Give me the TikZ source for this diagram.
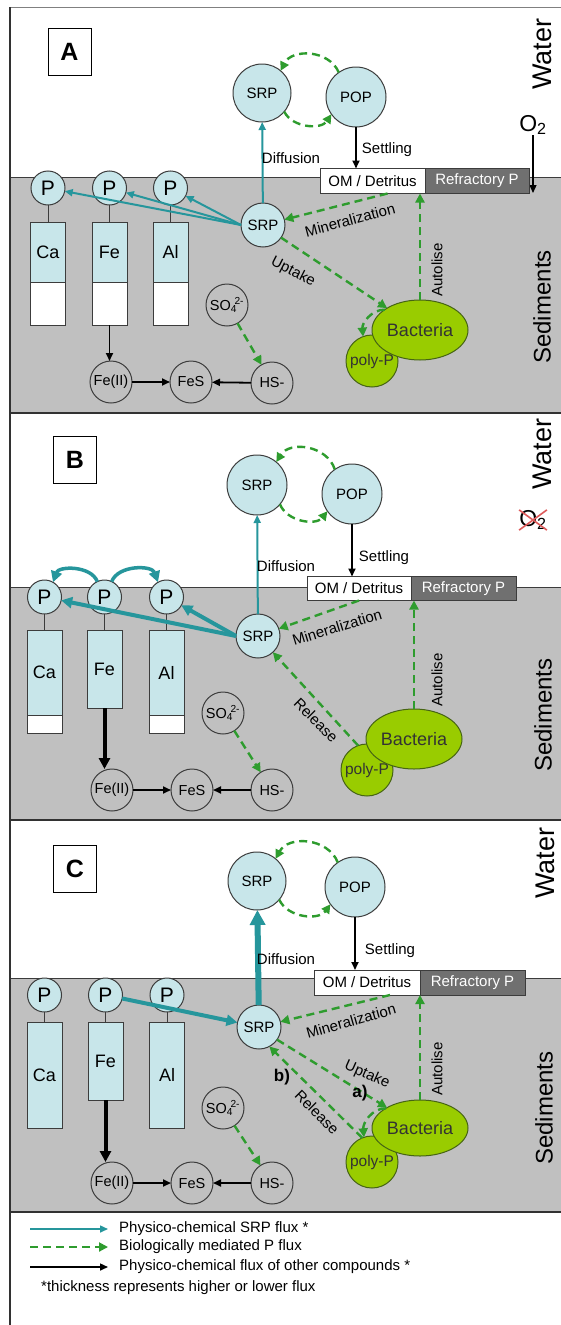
\documentclass[tikz,border=0pt]{standalone}
\usepackage{fontspec}
\setmainfont{Liberation Sans}
\usetikzlibrary{arrows.meta,positioning,shapes.geometric}

\definecolor{cyanfill}{RGB}{200,230,234}
\definecolor{tealline}{RGB}{38,150,156}
\definecolor{biogreen}{RGB}{46,156,46}
\definecolor{bactfill}{RGB}{153,204,0}
\definecolor{bactline}{RGB}{70,100,20}
\definecolor{sedgray}{RGB}{192,192,192}
\definecolor{refgray}{RGB}{112,112,112}
\definecolor{linegray}{RGB}{60,60,60}
\definecolor{framegray}{RGB}{50,50,50}
\definecolor{crossred}{RGB}{222,90,90}

\newcommand{\fsz}[1]{\fontsize{#1}{#1}\selectfont}

\tikzset{
  lbl/.style={font=\fsz{15}, inner sep=1pt},
  poolc/.style={circle, draw=linegray, line width=1pt, fill=cyanfill, inner sep=0pt, outer sep=0pt, font=\fsz{15}},
  pcirc/.style={circle, draw=linegray, line width=1pt, fill=cyanfill, minimum size=34pt, inner sep=0pt, outer sep=0pt, font=\fsz{21}},
  gcirc/.style={circle, draw=linegray, line width=1pt, fill=sedgray, minimum size=42pt, inner sep=0pt, outer sep=0pt, font=\fsz{14.5}},
  minbox/.style={rectangle, draw=linegray, line width=1pt, fill=cyanfill, minimum width=35pt, inner sep=0pt, outer sep=0pt, font=\fsz{18}},
  whitebox/.style={rectangle, draw=linegray, line width=1pt, fill=white, minimum width=35pt, inner sep=0pt, outer sep=0pt},
  ombox/.style={rectangle, draw=linegray, line width=1pt, fill=white, minimum height=25pt, inner sep=0pt, outer sep=0pt, font=\fsz{15}},
  refbox/.style={ombox, fill=refgray, text=white},
  panlab/.style={rectangle, draw=black, line width=1pt, fill=white, minimum width=43pt, minimum height=47pt, font=\fsz{25}\bfseries},
  zone/.style={rotate=90, inner sep=0pt, font=\fsz{27}},
  phys/.style={draw=tealline, line width=2pt, -{Triangle[length=8pt,width=7pt]}},
  physthick/.style={phys, line width=4pt, -{Triangle[length=11pt,width=11pt]}},
  bio/.style={draw=biogreen, line width=2.4pt, dash pattern=on 8pt off 5pt, -{Triangle[length=9pt,width=9pt]}},
  other/.style={draw=black, line width=1.8pt, -{Triangle[length=8pt,width=7pt]}},
  otherthick/.style={other, line width=4pt, -{Triangle[length=11pt,width=11pt]}},
  stem/.style={draw=linegray, line width=1pt},
  bact/.style={ellipse, draw=bactline, line width=1pt, fill=bactfill, minimum width=96pt, minimum height=60pt, inner sep=0pt, outer sep=0pt, text=black!80, font=\fsz{18}},
  polyp/.style={circle, draw=bactline, line width=1pt, fill=bactfill, minimum size=52pt, inner sep=0pt, outer sep=0pt, text=black!80, font=\fsz{15.5}},
  flag/.style={font=\fsz{17}\bfseries, inner sep=0pt}
}

\begin{document}
\begin{tikzpicture}[x=1pt, y=1pt]
\useasboundingbox (0,0) rectangle (560,-1325);

            %----- PANELS -----
            \fill[white] (0,0) rectangle (560,-1325);
            \fill[sedgray] (10,-177) rectangle (562,-413);
            \fill[sedgray] (10,-587) rectangle (562,-820);
            \fill[sedgray] (10,-978) rectangle (562,-1212);
            \draw[linegray, line width=1pt] (10,-177) -- (562,-177) (10,-587) -- (562,-587) (10,-978) -- (562,-978);
            \draw[gray, line width=1pt] (10,-7) -- (562,-7);
            \draw[framegray, line width=2.5pt] (10,-413) -- (562,-413) (10,-820) -- (562,-820) (10,-1212) -- (562,-1212);
            \draw[framegray, line width=2.5pt] (10,-7) -- (10,-1325);

            %----- PANEL A -----
            \node[panlab] (labA) at (69.5,-51.5) {A};
            \node[zone] (watA) at (542,-54) {Water};
            \node[zone, font=\fsz{24}] (sedA) at (542,-307) {Sediments};
            \node[font=\fsz{23}, inner sep=0pt] (o2A) at (533,-125) {O\textsubscript{2}};
            \coordinate (o2endA) at (533,-193);
            \draw[other, line width=1.2pt] (o2A) -- (o2endA);

            % water column
            \node[poolc, minimum size=58pt] (srpwA) at (262,-93) {SRP};
            \node[poolc, minimum size=60pt] (popA) at (356,-97) {POP};
            \draw[bio] (popA.125) to[bend right=65, looseness=1.1] (srpwA.50);
            \draw[bio] (srpwA.-40) to[bend right=60] (popA.-145);
            \node[ombox, minimum width=105pt] (omA) at (372.5,-181) {OM / Detritus};
            \node[refbox, minimum width=104pt, right=0pt of omA] (refA) {Refractory P};
            \draw[other] (popA) -- (popA |- omA.north);
            \node[lbl] (setA) at (387,-150) {Settling};

            % bound P
            \node[pcirc] (pcaA) at (48,-188) {P};
            \node[pcirc] (pfeA) at (109.5,-188) {P};
            \node[pcirc] (palA) at (170.5,-188) {P};
            \node[minbox, minimum height=60pt] (caA) at (48,-252) {Ca};
            \node[minbox, minimum height=60pt] (feA) at (109.5,-252) {Fe};
            \node[minbox, minimum height=60pt] (alA) at (170.5,-252) {Al};
            \node[whitebox, minimum height=43pt, below=0pt of caA] (caAw) {};
            \node[whitebox, minimum height=43pt, below=0pt of feA] (feAw) {};
            \node[whitebox, minimum height=43pt, below=0pt of alA] (alAw) {};
            \draw[stem] (pcaA) -- (caA);
            \draw[stem] (pfeA) -- (feA);
            \draw[stem] (palA) -- (alA);

            % sediment SRP
            \node[poolc, minimum size=44pt] (srpsA) at (263,-225) {SRP};
            \draw[phys] (srpsA) -- (srpwA);
            \node[lbl] (difA) at (291,-158) {Diffusion};
            \draw[phys] (srpsA.west) -- (pcaA);
            \draw[phys] (srpsA.west) -- (pfeA);
            \draw[phys] (srpsA.west) -- (palA);

            % sulphur and iron
            \node[gcirc] (so4A) at (227,-305) {SO\textsubscript{4}\kern-2.5pt\textsuperscript{2-}};
            \node[gcirc] (fe2A) at (111,-382) {Fe(II)};
            \node[gcirc] (fesA) at (191,-382) {FeS};
            \node[gcirc] (hsA) at (272,-383) {HS-};
            \draw[bio] (so4A) -- (hsA);
            \draw[other] (feAw) -- (feAw |- fe2A.north);
            \draw[other] (fe2A) -- (fesA);
            \draw[other] (hsA) -- (fesA);

            % bacteria
            \node[polyp] (polyA) at (372,-361) {poly-P};
            \node[bact] (bacA) at (420,-330) {Bacteria};
            \draw[bio] ([xshift=15pt]omA.south) -- (srpsA);
            \node[lbl, rotate=15] (minA) at (350,-220) {Mineralization};
            \draw[bio] (srpsA.-35) -- (bacA);
            \node[lbl, rotate=-27] (uptA) at (293,-272) {Uptake};
            \draw[bio] (bacA.north) -- (bacA.north |- omA.south);
            \node[lbl, rotate=90] (autA) at (437,-270) {Autolise};
            \draw[bio] (bacA.150) to[out=180, in=95] (polyA.110);

            %----- PANEL B -----
            \node[panlab] (labB) at (75,-460) {B};
            \node[zone] (watB) at (542,-454) {Water};
            \node[zone, font=\fsz{24}] (sedB) at (543,-715) {Sediments};
            \node[font=\fsz{23}, inner sep=0pt] (o2B) at (533,-520) {O\textsubscript{2}};
            \draw[crossred, line width=1.6pt] (o2B.north west) -- (o2B.south east) (o2B.south west) -- (o2B.north east);

            % water column
            \node[poolc, minimum size=60pt] (srpwB) at (257,-485) {SRP};
            \node[poolc, minimum size=60pt] (popB) at (352,-494) {POP};
            \draw[bio] (popB.125) to[bend right=65, looseness=1.1] (srpwB.50);
            \draw[bio] (srpwB.-40) to[bend right=60] (popB.-145);
            \node[ombox, minimum width=104pt, minimum height=24pt] (omB) at (359,-588.5) {OM / Detritus};
            \node[refbox, minimum width=105pt, minimum height=24pt, right=0pt of omB] (refB) {Refractory P};
            \draw[other] (popB) -- (popB |- omB.north);
            \node[lbl] (setB) at (384,-558) {Settling};

            % bound P
            \node[pcirc] (pcaB) at (44.5,-597) {P};
            \node[pcirc] (pfeB) at (104.5,-597) {P};
            \node[pcirc] (palB) at (166.5,-597) {P};
            \node[minbox, minimum height=85pt] (caB) at (44.5,-672.5) {Ca};
            \node[minbox, minimum height=78pt] (feB) at (104.5,-669) {Fe};
            \node[minbox, minimum height=85pt] (alB) at (166.5,-672.5) {Al};
            \node[whitebox, minimum height=18pt, below=0pt of caB] (caBw) {};
            \node[whitebox, minimum height=18pt, below=0pt of alB] (alBw) {};
            \draw[stem] (pcaB) -- (caB);
            \draw[stem] (pfeB) -- (feB);
            \draw[stem] (palB) -- (alB);
            \draw[physthick, line width=3.5pt] (pfeB.115) to[bend right=70] (pcaB.60);
            \draw[physthick, line width=3.5pt] (pfeB.65) to[bend left=70] (palB.120);

            % sediment SRP
            \node[poolc, minimum size=44pt] (srpsB) at (258,-636) {SRP};
            \draw[phys] (srpsB) -- (srpwB);
            \node[lbl] (difB) at (286,-566) {Diffusion};
            \draw[physthick] (srpsB.west) -- (pcaB);
            \draw[physthick] (srpsB.west) -- (palB);

            % sulphur and iron
            \node[gcirc] (so4B) at (223,-713) {SO\textsubscript{4}\kern-2.5pt\textsuperscript{2-}};
            \node[gcirc] (fe2B) at (112,-790) {Fe(II)};
            \node[gcirc] (fesB) at (192,-790) {FeS};
            \node[gcirc] (hsB) at (272,-790) {HS-};
            \draw[bio] (so4B) -- (hsB);
            \draw[otherthick] (feB) -- (feB |- fe2B.north);
            \draw[other] (fe2B) -- (fesB);
            \draw[other] (hsB) -- (fesB);

            % bacteria
            \node[polyp] (polyB) at (367,-770) {poly-P};
            \node[bact] (bacB) at (414,-739) {Bacteria};
            \draw[bio] (omB.south) -- (srpsB);
            \node[lbl, rotate=17] (minB) at (337,-627) {Mineralization};
            \draw[bio] (polyB.110) -- (srpsB);
            \node[lbl, rotate=-45] (relB) at (316,-720) {Release};
            \draw[bio] (bacB.north) -- (bacB.north |- omB.south);
            \node[lbl, rotate=90] (autB) at (437,-680) {Autolise};

            %----- PANEL C -----
            \node[panlab] (labC) at (75,-868.5) {C};
            \node[zone] (watC) at (545,-863) {Water};
            \node[zone, font=\fsz{24}] (sedC) at (544,-1108) {Sediments};

            % water column
            \node[poolc, minimum size=58pt] (srpwC) at (257,-881) {SRP};
            \node[poolc, minimum size=60pt] (popC) at (355,-887) {POP};
            \draw[bio] (popC.125) to[bend right=65, looseness=1.1] (srpwC.50);
            \draw[bio] (srpwC.-40) to[bend right=60] (popC.-145);
            \node[ombox, minimum width=106pt] (omC) at (367,-982.5) {OM / Detritus};
            \node[refbox, minimum width=105pt, right=0pt of omC] (refC) {Refractory P};
            \draw[other] (popC) -- (popC |- omC.north);
            \node[lbl] (setC) at (390,-951) {Settling};

            % bound P
            \node[pcirc] (pcaC) at (44.5,-995) {P};
            \node[pcirc] (pfeC) at (105.5,-995) {P};
            \node[pcirc] (palC) at (167,-995) {P};
            \node[minbox, minimum height=106pt] (caC) at (44.5,-1075) {Ca};
            \node[minbox, minimum height=78pt] (feC) at (105.5,-1061) {Fe};
            \node[minbox, minimum height=106pt] (alC) at (167,-1075) {Al};
            \draw[stem] (pcaC) -- (caC);
            \draw[stem] (pfeC) -- (feC);
            \draw[stem] (palC) -- (alC);

            % sediment SRP
            \node[poolc, minimum size=44pt] (srpsC) at (259,-1027) {SRP};
            \draw[physthick, line width=6pt, -{Triangle[length=15pt,width=15pt]}] (srpsC) -- (srpwC);
            \node[lbl] (difC) at (286,-959) {Diffusion};
            \draw[physthick] (pfeC) -- (srpsC);

            % sulphur and iron
            \node[gcirc] (so4C) at (223,-1108) {SO\textsubscript{4}\kern-2.5pt\textsuperscript{2-}};
            \node[gcirc] (fe2C) at (112,-1183) {Fe(II)};
            \node[gcirc] (fesC) at (192,-1183) {FeS};
            \node[gcirc] (hsC) at (272,-1183) {HS-};
            \draw[bio] (so4C) -- (hsC);
            \draw[otherthick] (feC) -- (feC |- fe2C.north);
            \draw[other] (fe2C) -- (fesC);
            \draw[other] (hsC) -- (fesC);

            % bacteria
            \node[polyp] (polyC) at (372,-1162) {poly-P};
            \node[bact, minimum height=56pt] (bacC) at (420,-1128) {Bacteria};
            \draw[bio] ([xshift=23pt]omC.south) -- (srpsC);
            \node[lbl, rotate=16] (minC) at (351,-1021) {Mineralization};
            \draw[bio] (srpsC.-35) -- (bacC);
            \node[lbl, rotate=-24] (uptC) at (367,-1075) {Uptake};
            \draw[bio] (polyC.112) -- (srpsC.-62);
            \node[lbl, rotate=-45] (relC) at (317,-1112) {Release};
            \draw[bio] (bacC.north) -- (bacC.north |- omC.south);
            \node[lbl, rotate=90] (autC) at (437,-1069) {Autolise};
            \draw[bio] (bacC.150) to[out=180, in=95] (polyC.108);
            \node[flag] (flagb) at (282,-1077) {b)};
            \node[flag] (flaga) at (360,-1093) {a)};

            %----- LEGEND -----
            \node[lbl, anchor=west] (lgtA) at (118,-1229) {Physico-chemical SRP flux *};
            \node[lbl, anchor=west] (lgtB) at (118,-1247) {Biologically mediated P flux};
            \node[lbl, anchor=west] (lgtC) at (118,-1267) {Physico-chemical flux of other compounds *};
            \node[lbl, anchor=west] (lgtD) at (40,-1288) {*thickness represents higher or lower flux};
            \coordinate (lgA) at (30,-1229);
            \coordinate (lgB) at (30,-1247);
            \coordinate (lgC) at (30,-1267);
            \draw[phys, line width=1.5pt] (lgA) -- ([xshift=-10pt]lgtA.west);
            \draw[bio, line width=2pt] (lgB) -- ([xshift=-10pt]lgtB.west);
            \draw[other, line width=1.5pt] (lgC) -- ([xshift=-10pt]lgtC.west);

\end{tikzpicture}
\end{document}
